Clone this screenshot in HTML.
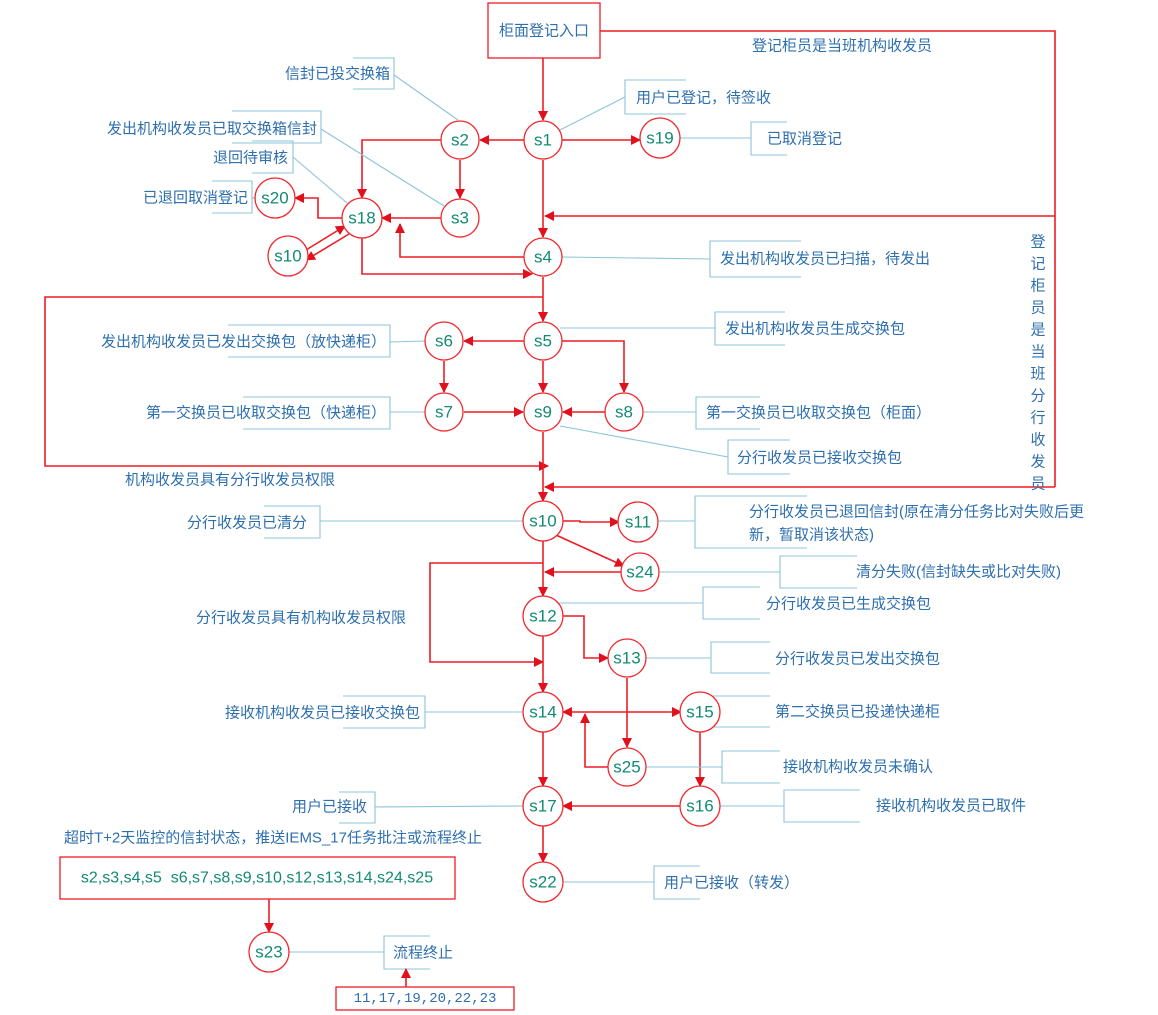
<!DOCTYPE html>
<html><head><meta charset="utf-8"><style>
html,body{margin:0;padding:0;background:#fff;}
svg{display:block;}
.n{fill:#fff;stroke:#f0282d;stroke-width:1.3}
.nt{font-family:"Liberation Sans","DejaVu Sans",sans-serif;font-size:17px;fill:#138a72;text-anchor:middle;dominant-baseline:central}
.r{stroke:#ee1c25;stroke-width:1.6;fill:none}
.c{stroke:#8cc4d8;stroke-width:1.1;fill:none}
.t{font-family:"Liberation Sans","Noto Sans CJK SC",sans-serif;font-size:15px;fill:#2e6fae;dominant-baseline:central}
.bx{fill:#fff;stroke:#ee1c25;stroke-width:1.3}
</style></head><body>
<svg width="1158" height="1015" viewBox="0 0 1158 1015" xmlns="http://www.w3.org/2000/svg">
<defs><marker id="a" viewBox="0 0 10 10" refX="9" refY="5" markerWidth="10" markerHeight="10" markerUnits="userSpaceOnUse" orient="auto"><path d="M0,0L10,5L0,10z" fill="#e0101c"/></marker></defs>

<rect class="bx" x="488" y="3" width="112" height="55"/>
<text class="t" x="544" y="31" text-anchor="middle">柜面登记入口</text>
<text class="t" x="752" y="46">登记柜员是当班机构收发员</text>

<polyline class="r" points="600,31 1055,31 1055,487"/>
<line class="r" x1="1055" y1="216" x2="545" y2="216" marker-end="url(#a)"/>
<line class="r" x1="1055" y1="487" x2="545" y2="487" marker-end="url(#a)"/>
<g class="t" text-anchor="middle">
<text x="1038" y="242">登</text><text x="1038" y="264">记</text><text x="1038" y="286">柜</text><text x="1038" y="308">员</text><text x="1038" y="330">是</text><text x="1038" y="352">当</text><text x="1038" y="374">班</text><text x="1038" y="396">分</text><text x="1038" y="418">行</text><text x="1038" y="440">收</text><text x="1038" y="462">发</text><text x="1038" y="484">员</text>
</g>

<line class="r" x1="543" y1="58" x2="543" y2="120" marker-end="url(#a)"/>
<line class="r" x1="524" y1="140" x2="480" y2="140" marker-end="url(#a)"/>
<line class="r" x1="562" y1="140" x2="640" y2="140" marker-end="url(#a)"/>
<line class="r" x1="543" y1="160" x2="543" y2="237" marker-end="url(#a)"/>
<polyline class="r" points="441,140 362,140 362,198" marker-end="url(#a)"/>
<line class="r" x1="460" y1="160" x2="460" y2="198" marker-end="url(#a)"/>
<line class="r" x1="441" y1="218" x2="382" y2="218" marker-end="url(#a)"/>
<polyline class="r" points="343,218 318,218 318,198 295,198" marker-end="url(#a)"/>
<line class="r" x1="349" y1="234" x2="306" y2="260" marker-end="url(#a)"/>
<line class="r" x1="306" y1="250" x2="345" y2="226" marker-end="url(#a)"/>
<polyline class="r" points="362,238 362,274 532,274" marker-end="url(#a)"/>
<polyline class="r" points="524,257 400,257 400,224" marker-end="url(#a)"/>
<line class="r" x1="543" y1="277" x2="543" y2="321" marker-end="url(#a)"/>
<polyline class="r" points="543,297 45,297 45,466 548,466" marker-end="url(#a)"/>
<line class="r" x1="524" y1="341" x2="464" y2="341" marker-end="url(#a)"/>
<line class="r" x1="543" y1="361" x2="543" y2="392" marker-end="url(#a)"/>
<polyline class="r" points="562,341 624,341 624,392" marker-end="url(#a)"/>
<line class="r" x1="444" y1="361" x2="444" y2="392" marker-end="url(#a)"/>
<line class="r" x1="464" y1="412" x2="523" y2="412" marker-end="url(#a)"/>
<line class="r" x1="605" y1="412" x2="563" y2="412" marker-end="url(#a)"/>
<line class="r" x1="543" y1="432" x2="543" y2="501" marker-end="url(#a)"/>
<text class="t" x="125" y="480">机构收发员具有分行收发员权限</text>
<polyline class="r" points="562,521 580,521 580,522 619,522" marker-end="url(#a)"/>
<line class="r" x1="556" y1="535" x2="624" y2="566" marker-end="url(#a)"/>
<line class="r" x1="621" y1="572" x2="545" y2="572" marker-end="url(#a)"/>
<line class="r" x1="543" y1="541" x2="543" y2="596" marker-end="url(#a)"/>
<polyline class="r" points="543,563 430,563 430,662 543,662" marker-end="url(#a)"/>
<text class="t" x="196" y="618">分行收发员具有机构收发员权限</text>
<polyline class="r" points="562,616 584,616 584,658 608,658" marker-end="url(#a)"/>
<line class="r" x1="543" y1="636" x2="543" y2="692" marker-end="url(#a)"/>
<line class="r" x1="627" y1="678" x2="627" y2="747" marker-end="url(#a)"/>
<line class="r" x1="600" y1="712" x2="563" y2="712" marker-end="url(#a)"/>
<line class="r" x1="600" y1="712" x2="681" y2="712" marker-end="url(#a)"/>
<polyline class="r" points="608,767 585,767 585,714" marker-end="url(#a)"/>
<line class="r" x1="700" y1="732" x2="700" y2="786" marker-end="url(#a)"/>
<line class="r" x1="681" y1="806" x2="563" y2="806" marker-end="url(#a)"/>
<line class="r" x1="543" y1="732" x2="543" y2="786" marker-end="url(#a)"/>
<line class="r" x1="543" y1="826" x2="543" y2="862" marker-end="url(#a)"/>

<g class="c">
<line x1="560" y1="130" x2="625" y2="97"/><polyline points="686,80 625,80 625,114 686,114"/>
<line x1="680" y1="138" x2="751" y2="138"/><polyline points="787,122 751,122 751,155 787,155"/>
<line x1="562" y1="257" x2="710" y2="259"/><polyline points="801,241 710,241 710,277 801,277"/>
<line x1="560" y1="328" x2="715" y2="328"/><polyline points="785,312 715,312 715,345 785,345"/>
<line x1="643" y1="412" x2="696" y2="412"/><polyline points="760,397 696,397 696,429 760,429"/>
<line x1="560" y1="426" x2="728" y2="457"/><polyline points="790,440 728,440 728,474 790,474"/>
<line x1="657" y1="521" x2="695" y2="521"/><polyline points="807,496 695,496 695,548 807,548"/>
<line x1="659" y1="572" x2="780" y2="572"/><polyline points="857,556 780,556 780,588 857,588"/>
<line x1="558" y1="603" x2="703" y2="603"/><polyline points="760,587 703,587 703,619 760,619"/>
<line x1="646" y1="658" x2="711" y2="658"/><polyline points="770,642 711,642 711,673 770,673"/>
<line x1="719" y1="712" x2="711" y2="712"/><polyline points="770,696 711,696 711,727 770,727"/>
<line x1="646" y1="767" x2="722" y2="767"/><polyline points="780,751 722,751 722,783 780,783"/>
<line x1="719" y1="806" x2="784" y2="806"/><polyline points="860,790 784,790 784,822 860,822"/>
<line x1="562" y1="882" x2="654" y2="882"/><polyline points="700,866 654,866 654,899 700,899"/>
<line x1="288" y1="952" x2="384" y2="952"/><polyline points="430,936 384,936 384,969 430,969"/>
<line x1="394" y1="75" x2="458" y2="120"/><polyline points="353,58 394,58 394,89 353,89"/>
<line x1="321" y1="129" x2="444" y2="206"/><polyline points="232,111 321,111 321,143 232,143"/>
<line x1="293" y1="157" x2="347" y2="203"/><polyline points="252,141 293,141 293,173 252,173"/>
<line x1="252" y1="198" x2="256" y2="198"/><polyline points="212,181 252,181 252,213 212,213"/>
<line x1="390" y1="342" x2="425" y2="341"/><polyline points="228,325 390,325 390,357 228,357"/>
<line x1="390" y1="412" x2="425" y2="412"/><polyline points="243,397 390,397 390,429 243,429"/>
<line x1="320" y1="521" x2="524" y2="521"/><polyline points="264,506 320,506 320,538 264,538"/>
<line x1="425" y1="712" x2="524" y2="712"/><polyline points="343,696 425,696 425,728 343,728"/>
<line x1="375" y1="807" x2="524" y2="806"/><polyline points="339,792 375,792 375,823 339,823"/>
</g>

<g class="t">
<text x="636" y="98">用户已登记，待签收</text>
<text x="767" y="139">已取消登记</text>
<text x="720" y="259">发出机构收发员已扫描，待发出</text>
<text x="725" y="329">发出机构收发员生成交换包</text>
<text x="706" y="413">第一交换员已收取交换包（柜面）</text>
<text x="737" y="458">分行收发员已接收交换包</text>
<text x="749" y="512">分行收发员已退回信封(原在清分任务比对失败后更</text>
<text x="749" y="535">新，暂取消该状态)</text>
<text x="856" y="572">清分失败(信封缺失或比对失败)</text>
<text x="766" y="604">分行收发员已生成交换包</text>
<text x="775" y="659">分行收发员已发出交换包</text>
<text x="775" y="712">第二交换员已投递快递柜</text>
<text x="783" y="767">接收机构收发员未确认</text>
<text x="876" y="806">接收机构收发员已取件</text>
<text x="664" y="883">用户已接收（转发）</text>
<text x="393" y="953">流程终止</text>
<text x="390" y="74" text-anchor="end">信封已投交换箱</text>
<text x="317" y="129" text-anchor="end">发出机构收发员已取交换箱信封</text>
<text x="288" y="158" text-anchor="end">退回待审核</text>
<text x="248" y="198" text-anchor="end">已退回取消登记</text>
<text x="386" y="342" text-anchor="end">发出机构收发员已发出交换包（放快递柜）</text>
<text x="386" y="413" text-anchor="end">第一交换员已收取交换包（快递柜）</text>
<text x="307" y="523" text-anchor="end">分行收发员已清分</text>
<text x="420" y="713" text-anchor="end">接收机构收发员已接收交换包</text>
<text x="367" y="807" text-anchor="end">用户已接收</text>
<text x="64" y="838">超时T+2天监控的信封状态，推送IEMS_17任务批注或流程终止</text>
</g>

<rect class="bx" x="60" y="857" width="395" height="42"/>
<text class="nt" x="257" y="878" style="font-size:16px" xml:space="preserve">s2,s3,s4,s5  s6,s7,s8,s9,s10,s12,s13,s14,s24,s25</text>
<line class="r" x1="269" y1="899" x2="269" y2="932" marker-end="url(#a)"/>
<rect class="bx" x="336" y="987" width="178" height="23"/>
<text class="t" x="425" y="999" text-anchor="middle" style="font-family:'Liberation Mono',monospace;font-size:14px">11,17,19,20,22,23</text>
<line class="r" x1="406" y1="987" x2="406" y2="969" marker-end="url(#a)"/>

<g>
<circle class="n" cx="543" cy="140" r="19"/><text class="nt" x="543" y="140">s1</text>
<circle class="n" cx="460" cy="140" r="19"/><text class="nt" x="460" y="140">s2</text>
<circle class="n" cx="660" cy="138" r="20"/><text class="nt" x="660" y="138">s19</text>
<circle class="n" cx="460" cy="218" r="19"/><text class="nt" x="460" y="218">s3</text>
<circle class="n" cx="362" cy="218" r="20"/><text class="nt" x="362" y="218">s18</text>
<circle class="n" cx="275" cy="198" r="20"/><text class="nt" x="275" y="198">s20</text>
<circle class="n" cx="288" cy="256" r="20"/><text class="nt" x="288" y="256">s10</text>
<circle class="n" cx="543" cy="257" r="19"/><text class="nt" x="543" y="257">s4</text>
<circle class="n" cx="543" cy="341" r="19"/><text class="nt" x="543" y="341">s5</text>
<circle class="n" cx="444" cy="341" r="19"/><text class="nt" x="444" y="341">s6</text>
<circle class="n" cx="444" cy="412" r="19"/><text class="nt" x="444" y="412">s7</text>
<circle class="n" cx="543" cy="412" r="19"/><text class="nt" x="543" y="412">s9</text>
<circle class="n" cx="624" cy="412" r="19"/><text class="nt" x="624" y="412">s8</text>
<circle class="n" cx="543" cy="521" r="20"/><text class="nt" x="543" y="521">s10</text>
<circle class="n" cx="638" cy="522" r="20"/><text class="nt" x="638" y="522">s11</text>
<circle class="n" cx="640" cy="572" r="19"/><text class="nt" x="640" y="572">s24</text>
<circle class="n" cx="543" cy="616" r="20"/><text class="nt" x="543" y="616">s12</text>
<circle class="n" cx="627" cy="658" r="19"/><text class="nt" x="627" y="658">s13</text>
<circle class="n" cx="543" cy="712" r="20"/><text class="nt" x="543" y="712">s14</text>
<circle class="n" cx="700" cy="712" r="20"/><text class="nt" x="700" y="712">s15</text>
<circle class="n" cx="627" cy="767" r="19"/><text class="nt" x="627" y="767">s25</text>
<circle class="n" cx="700" cy="806" r="20"/><text class="nt" x="700" y="806">s16</text>
<circle class="n" cx="543" cy="806" r="20"/><text class="nt" x="543" y="806">s17</text>
<circle class="n" cx="543" cy="882" r="20"/><text class="nt" x="543" y="882">s22</text>
<circle class="n" cx="269" cy="952" r="20"/><text class="nt" x="269" y="952">s23</text>
</g>
</svg>
</body></html>
